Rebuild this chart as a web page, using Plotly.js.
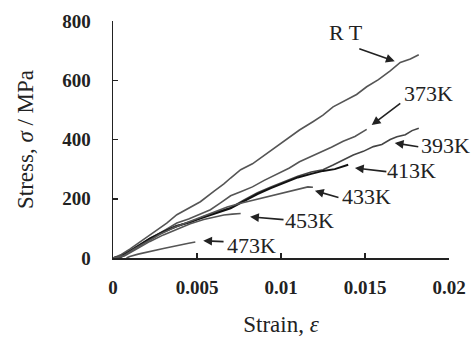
<!DOCTYPE html>
<html>
<head>
<meta charset="utf-8">
<script src="https://cdn.plot.ly/plotly-3.0.1.min.js"></script>
<style>html,body{margin:0;padding:0;background:#fff;}#chart{width:474px;height:343px;}</style>
</head>
<body>
<div id="chart"></div>
<script>
// Stress-strain curves at different temperatures (strain, stress in MPa)
const rtStrain = [0, 0.0005, 0.001, 0.0018, 0.0025, 0.0032, 0.0038, 0.0045, 0.0052, 0.006, 0.0066, 0.007, 0.0076, 0.0083, 0.009, 0.0099, 0.0105, 0.0111, 0.0119, 0.0125, 0.0131, 0.0138, 0.0145, 0.0151, 0.0158, 0.0165, 0.0171, 0.0177, 0.0182];
const rtStress = [0, 12, 30, 62, 88, 118, 146, 168, 190, 225, 250, 270, 298, 318, 346, 381, 406, 432, 460, 482, 510, 532, 552, 578, 602, 632, 660, 672, 686];

const k373Strain = [0, 0.0005, 0.001, 0.0018, 0.0025, 0.0032, 0.0038, 0.0045, 0.0052, 0.0058, 0.0064, 0.007, 0.0076, 0.0083, 0.009, 0.0099, 0.0105, 0.0111, 0.0117, 0.0123, 0.013, 0.0137, 0.0144, 0.0151];
const k373Stress = [0, 8, 22, 50, 72, 96, 118, 132, 150, 163, 186, 210, 224, 240, 262, 286, 304, 325, 340, 354, 374, 394, 410, 434];

const k393Strain = [0, 0.0004, 0.001, 0.0016, 0.0022, 0.003, 0.0038, 0.0046, 0.0054, 0.0062, 0.007, 0.0078, 0.0086, 0.0094, 0.0102, 0.011, 0.0118, 0.0125, 0.0131, 0.0137, 0.0143, 0.0149, 0.0155, 0.016, 0.0165, 0.0169, 0.0174, 0.0178, 0.0182];
const k393Stress = [0, 5, 25, 46, 67, 90, 110, 120, 140, 156, 170, 196, 220, 240, 258, 276, 290, 298, 314, 330, 348, 360, 376, 383, 400, 409, 416, 430, 438];

const k413Strain = [0, 0.0005, 0.001, 0.0016, 0.0022, 0.003, 0.0038, 0.0046, 0.0054, 0.0062, 0.007, 0.0078, 0.0086, 0.0094, 0.0102, 0.011, 0.0118, 0.0125, 0.0132, 0.014];
const k413Stress = [0, 4, 22, 44, 65, 88, 107, 122, 138, 154, 168, 192, 216, 236, 254, 272, 284, 294, 300, 315];

const k433Strain = [0, 0.0006, 0.0012, 0.002, 0.0028, 0.0036, 0.0044, 0.0052, 0.006, 0.0068, 0.0076, 0.0084, 0.0092, 0.01, 0.0106, 0.0112, 0.0116, 0.0119];
const k433Stress = [0, 6, 28, 55, 80, 102, 120, 138, 155, 172, 185, 196, 207, 218, 226, 232, 240, 239];

const k453Strain = [0, 0.0007, 0.0014, 0.0022, 0.003, 0.0038, 0.0046, 0.0054, 0.006, 0.0066, 0.0071, 0.0076];
const k453Stress = [0, 8, 30, 56, 78, 98, 116, 130, 138, 145, 148, 150];

const k473Strain = [0.0008, 0.001, 0.0015, 0.002, 0.0025, 0.003, 0.0035, 0.004, 0.0045, 0.0049];
const k473Stress = [0, 5, 13, 20, 26, 32, 38, 45, 50, 54];

const xTickVals = [0, 0.005, 0.01, 0.015, 0.02];
const xTickText = ['0', '0.005', '0.01', '0.015', '0.02'];
const yTickVals = [0, 200, 400, 600, 800];

// Curve labels: [text, label x, label y, arrow tail x, tail y, arrow head x, head y]
const curveLabels = [
  ['R T', 0.01386, 762, 0.01457, 708, 0.01677, 664],
  ['373K', 0.01879, 556, 0.01719, 526, 0.01540, 449],
  ['393K', 0.01981, 381, 0.01826, 375, 0.01677, 388],
  ['413K', 0.01778, 294, 0.01636, 291, 0.01440, 304],
  ['433K', 0.01511, 206, 0.01351, 203, 0.01202, 227],
  ['453K', 0.01172, 126, 0.01024, 129, 0.00816, 139],
  ['473K', 0.00822, 41, 0.00667, 55, 0.00537, 58]
];

const series = [
  ['RT', rtStrain, rtStress, '#555555', 1.6],
  ['373K', k373Strain, k373Stress, '#555555', 1.6],
  ['393K', k393Strain, k393Stress, '#444444', 1.6],
  ['413K', k413Strain, k413Stress, '#111111', 2.0],
  ['433K', k433Strain, k433Stress, '#555555', 1.6],
  ['453K', k453Strain, k453Stress, '#555555', 1.6],
  ['473K', k473Strain, k473Stress, '#555555', 1.6]
];

const traces = series.map(s => ({
  type: 'scatter', mode: 'lines', name: s[0], x: s[1], y: s[2],
  line: {color: s[3], width: s[4]}, hoverinfo: 'skip'
}));

const annotations = [];
curveLabels.forEach(l => {
  annotations.push({
    x: l[1], y: l[2], xref: 'x', yref: 'y', text: l[0], showarrow: false,
    font: {family: 'Liberation Serif', size: 22, color: '#222'}
  });
  annotations.push({
    x: l[5], y: l[6], xref: 'x', yref: 'y', ax: l[3], ay: l[4], axref: 'x', ayref: 'y',
    text: '', showarrow: true, arrowhead: 2, arrowsize: 1.1, arrowwidth: 1.6, arrowcolor: '#222'
  });
});

const tickFont = {family: 'Liberation Serif', size: 19, color: '#222', weight: 'bold'};
const titleFont = {family: 'Liberation Serif', size: 23, color: '#222'};
const layout = {
  width: 474, height: 343,
  margin: {l: 113, r: 25, t: 21, b: 85},
  paper_bgcolor: '#fff', plot_bgcolor: '#fff',
  showlegend: false,
  xaxis: {
    range: [0, 0.02], tickvals: xTickVals, ticktext: xTickText,
    ticks: 'inside', ticklen: 5, tickwidth: 1.5, tickcolor: '#222',
    showline: true, linecolor: '#222', linewidth: 1.5, showgrid: false, zeroline: false,
    tickfont: tickFont, ticklabelstandoff: 12,
    title: {text: 'Strain, <i>ε</i>', font: titleFont, standoff: 18}
  },
  yaxis: {
    range: [0, 800], tickvals: yTickVals,
    ticks: 'inside', ticklen: 5, tickwidth: 1.5, tickcolor: '#222',
    showline: true, linecolor: '#222', linewidth: 1.5, showgrid: false, zeroline: false,
    tickfont: tickFont, ticklabelstandoff: 17,
    title: {text: 'Stress, <i>σ</i> / MPa', font: titleFont, standoff: 22}
  },
  annotations: annotations
};

Plotly.newPlot('chart', traces, layout, {staticPlot: true, displayModeBar: false});
</script>
</body>
</html>
